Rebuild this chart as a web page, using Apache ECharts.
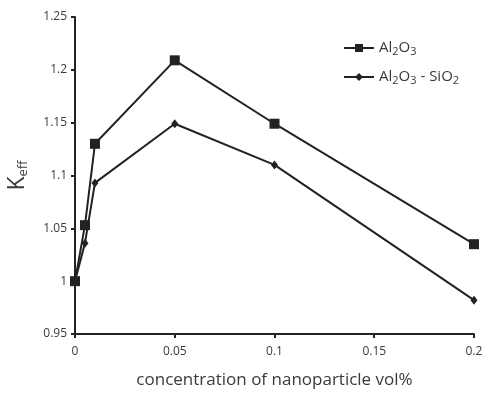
<!DOCTYPE html>
<html>
<head>
<meta charset="utf-8">
<script src="https://cdn.jsdelivr.net/npm/echarts@6/dist/echarts.min.js"></script>
<style>
  html, body { margin: 0; padding: 0; background: #fff; }
  #chart { width: 503px; height: 393px; }
</style>
</head>
<body>
<div id="chart"></div>
<script>
  // concentration (vol%) and Keff values
  var concentration = [0, 0.005, 0.01, 0.05, 0.1, 0.2];
  var al2o3 = [1.0, 1.053, 1.130, 1.209, 1.149, 1.035];
  var al2o3Sio2 = [1.0, 1.036, 1.093, 1.149, 1.110, 0.982];
  var xTicks = [0, 0.05, 0.1, 0.15, 0.2];
  var yTicks = [0.95, 1, 1.05, 1.1, 1.15, 1.2, 1.25];

  function pairs(xs, ys) {
    return xs.map(function (x, i) { return [x, ys[i]]; });
  }

  var font = '"Open Sans", "Liberation Sans", sans-serif';
  var ink = '#222';
  var textColor = '#3a3a3a';

  var myCharts = echarts.init(document.getElementById('chart'));
  var option = {
    backgroundColor: '#fff',
    animation: false,
    grid: {
      left: 75,
      right: 29,
      top: 17,
      bottom: 59,
      containLabel: false,
      outerBoundsMode: 'none'
    },
    legend: {
      orient: 'vertical',
      left: 338,
      top: 34,
      itemGap: 11,
      itemWidth: 30,
      itemHeight: 10,
      data: ['Al2O3', 'Al2O3 - SiO2'],
      formatter: function (name) {
        if (name === 'Al2O3') return 'Al{s|2}O{s|3}';
        return 'Al{s|2}O{s|3} - SiO{s|2}';
      },
      textStyle: {
        fontFamily: font,
        fontSize: 15,
        color: textColor,
        lineHeight: 18,
        rich: {
          s: { fontFamily: font, fontSize: 11, color: textColor, verticalAlign: 'bottom', lineHeight: 16 }
        }
      }
    },
    xAxis: {
      type: 'value',
      min: 0,
      max: 0.2,
      interval: 0.05,
      name: 'concentration of nanoparticle vol%',
      nameLocation: 'middle',
      nameGap: 38,
      nameTextStyle: { fontFamily: font, fontSize: 17, color: textColor },
      splitLine: { show: false },
      axisLine: { lineStyle: { color: ink, width: 2 } },
      axisTick: { length: 4, lineStyle: { color: ink, width: 2 } },
      axisLabel: {
        fontFamily: font,
        fontSize: 12,
        color: textColor,
        margin: 12,
        formatter: function (v) {
          var t = xTicks.filter(function (k) { return Math.abs(k - v) < 1e-9; });
          return t.length ? String(t[0]) : '';
        }
      }
    },
    yAxis: {
      type: 'value',
      min: 0.95,
      max: 1.25,
      interval: 0.05,
      name: 'K{s|eff}',
      nameLocation: 'middle',
      nameGap: 45,
      nameRotate: 90,
      nameTextStyle: {
        fontFamily: font,
        fontSize: 23,
        color: textColor,
        lineHeight: 26,
        rich: {
          s: { fontFamily: font, fontSize: 13, color: textColor, verticalAlign: 'bottom', lineHeight: 22 }
        }
      },
      splitLine: { show: false },
      axisLine: { show: true, lineStyle: { color: ink, width: 2 } },
      axisTick: { show: true, length: 4, lineStyle: { color: ink, width: 2 } },
      axisLabel: {
        fontFamily: font,
        fontSize: 12,
        color: textColor,
        margin: 8,
        formatter: function (v) {
          var t = yTicks.filter(function (k) { return Math.abs(k - v) < 1e-9; });
          return t.length ? String(t[0]) : '';
        }
      }
    },
    series: [
      {
        name: 'Al2O3',
        type: 'line',
        data: pairs(concentration, al2o3),
        symbol: 'rect',
        symbolSize: 10,
        lineStyle: { color: ink, width: 2 },
        itemStyle: { color: ink }
      },
      {
        name: 'Al2O3 - SiO2',
        type: 'line',
        data: pairs(concentration, al2o3Sio2),
        symbol: 'diamond',
        symbolSize: [7, 9],
        lineStyle: { color: ink, width: 2 },
        itemStyle: { color: ink }
      }
    ]
  };
  myCharts.setOption(option);
</script>
</body>
</html>
